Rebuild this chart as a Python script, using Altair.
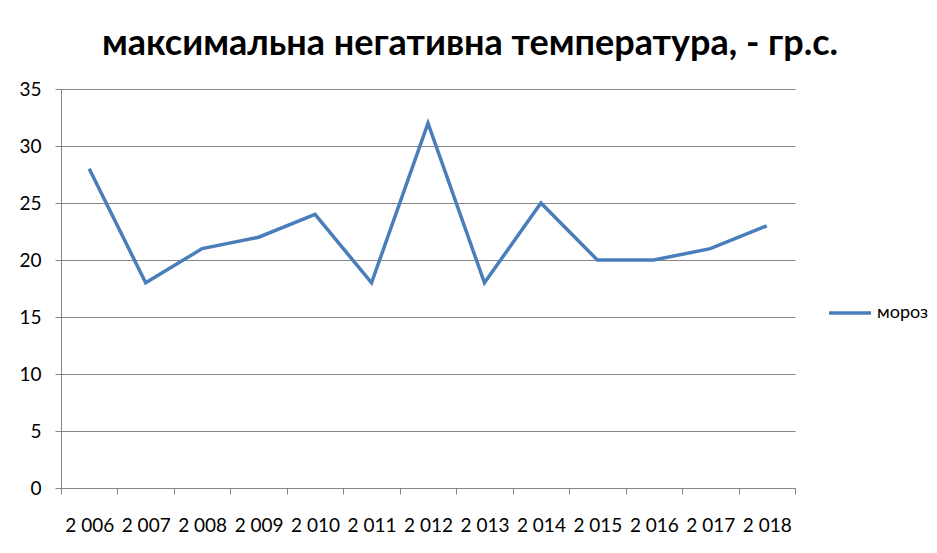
import altair as alt
import pandas as pd

years = ["2 006", "2 007", "2 008", "2 009", "2 010", "2 011", "2 012",
         "2 013", "2 014", "2 015", "2 016", "2 017", "2 018"]
values = [28, 18, 21, 22, 24, 18, 32, 18, 25, 20, 20, 21, 23]
series = ["мороз"] * len(years)

df = pd.DataFrame({"year": years, "value": values, "series": series})

FONT = "Lato"

chart = alt.Chart(df).mark_line(strokeWidth=3.5).encode(
    x=alt.X("year:O", sort=years, title=None,
            scale=alt.Scale(paddingInner=0, paddingOuter=0, align=0.5),
            axis=alt.Axis(labelAngle=0, tickBand="extent", grid=False,
                          domainColor="#868686", tickColor="#868686",
                          tickSize=6, labelPadding=22, labelFontSize=19,
                          labelColor="#000000", labelFont=FONT)),
    y=alt.Y("value:Q", title=None,
            scale=alt.Scale(domain=[0, 35], nice=False),
            axis=alt.Axis(values=[0, 5, 10, 15, 20, 25, 30, 35],
                          gridColor="#868686", domainColor="#868686",
                          tickColor="#868686", tickSize=6, labelPadding=14,
                          labelFontSize=19, labelColor="#000000",
                          labelFont=FONT)),
    color=alt.Color("series:N", title=None,
                    scale=alt.Scale(range=["#4A7EBB"]),
                    legend=alt.Legend(orient="none", legendX=766, legendY=201,
                                      symbolType="stroke", symbolSize=1764,
                                      symbolStrokeWidth=3.5, labelFontSize=18,
                                      labelFont=FONT, labelColor="#000000",
                                      labelOffset=4)),
).properties(
    width=734,
    height=399,
    title=alt.Title("максимальна негативна температура, - гр.с.",
                    fontSize=36, font=FONT, fontWeight="bold",
                    color="#000000", dx=42, offset=17),
    autosize=alt.AutoSizeParams(type="none"),
    padding={"left": 53, "top": 81, "right": 134, "bottom": 57},
).configure_view(stroke=None)

chart.save("out.html", embed_options={"renderer": "svg", "actions": False})
